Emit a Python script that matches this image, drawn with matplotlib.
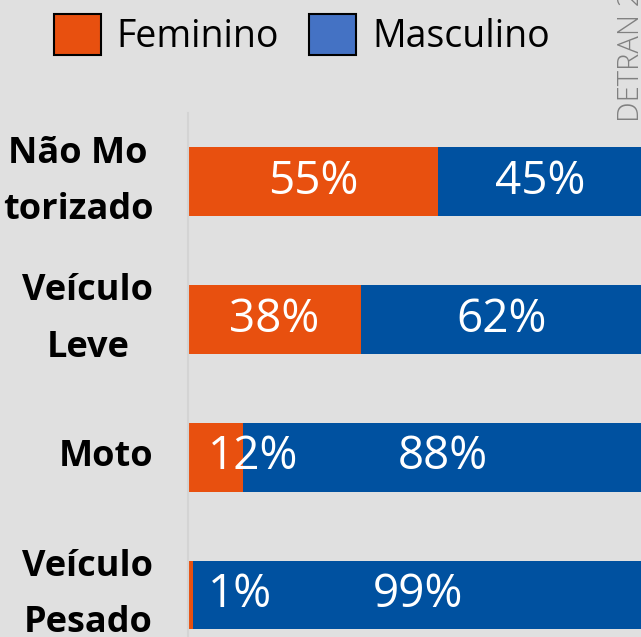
"""
Vítimas por tipo de veículo e sexo (barras empilhadas 100%).
"""

import matplotlib

matplotlib.use("Agg")
import matplotlib.pyplot as plt
from matplotlib.patches import Patch

categories = ["Não Mo\ntorizado", "Veículo\nLeve", "Moto", "Veículo\nPesado"]
feminino = [55, 38, 12, 1]
masculino = [45, 62, 88, 99]

ORANGE = "#E8500F"
BLUE = "#0051A0"
LEGEND_BLUE = "#4472C4"
BG = "#E0E0E0"

plt.rcParams["font.family"] = ["Open Sans", "DejaVu Sans"]

fig = plt.figure(figsize=(6.41, 6.37), dpi=100, facecolor=BG)
# axes: left edge at x=188px, top at y=113px, cropped at the right/bottom
ax = fig.add_axes([188 / 641, 0, 453 / 641, (637 - 113) / 637])
ax.set_facecolor(BG)

y = list(range(len(categories)))
ax.barh(y, feminino, height=0.5, color=ORANGE)
ax.barh(y, masculino, left=feminino, height=0.5, color=BLUE)

for i, (f, m) in enumerate(zip(feminino, masculino)):
    if f >= 20:
        ax.text(f / 2, i, f"{f}%", ha="center", va="center", color="white", fontsize=33)
    else:
        ax.text(4.3, i, f"{f}%", ha="left", va="center", color="white", fontsize=33)
    ax.text(f + m / 2, i, f"{m}%", ha="center", va="center", color="white", fontsize=33)

ax.set_xlim(0, 99.6)
ax.set_ylim(3.305, -0.5)
ax.set_xticks([])
ax.set_yticks(y)
ax.set_yticklabels(categories, fontsize=26, fontweight="bold", linespacing=1.75)
for t in ax.get_yticklabels():
    t.set_multialignment("center")
    t.set_verticalalignment("center")
ax.tick_params(axis="y", length=0, pad=25)

for s in ["top", "right", "bottom"]:
    ax.spines[s].set_visible(False)
ax.spines["left"].set_color("#D4D4D4")
ax.spines["left"].set_linewidth(1.5)

handles = [
    Patch(facecolor=ORANGE, edgecolor="black", linewidth=1.5, label="Feminino"),
    Patch(facecolor=LEGEND_BLUE, edgecolor="black", linewidth=1.5, label="Masculino"),
]
fig.legend(
    handles=handles,
    loc="center",
    bbox_to_anchor=(302 / 641, 1 - 35 / 637),
    ncol=2,
    frameon=False,
    fontsize=27,
    handlelength=1.25,
    handleheight=1.28,
    handletextpad=0.42,
    columnspacing=0.8,
)

fig.text(631 / 641, 1 - 122 / 637, "DETRAN 2", rotation=90, ha="center", va="bottom",
         color="#808080", fontsize=21, fontweight="light")

fig.savefig("out.png", dpi=100, facecolor=BG)
